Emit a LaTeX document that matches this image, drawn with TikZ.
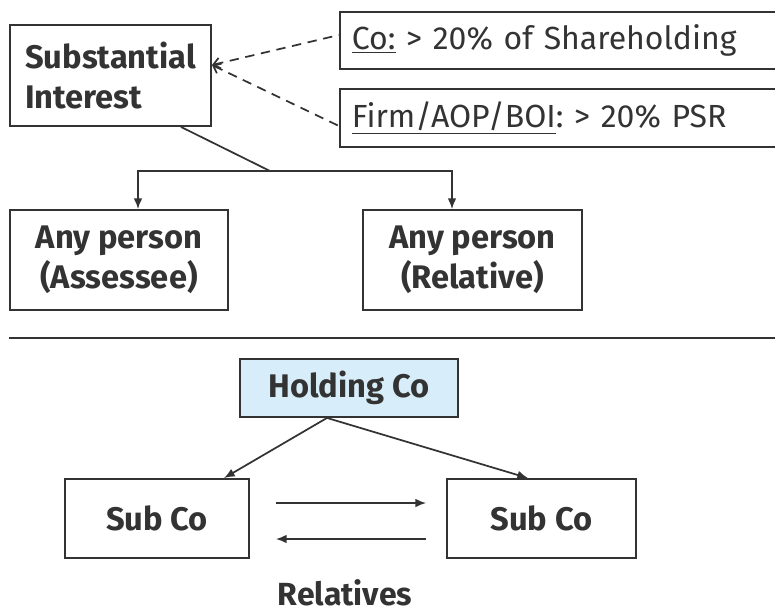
\documentclass[tikz,border=0pt]{standalone}
\usepackage{fontspec}
\setmainfont{Fira Sans}
\usepackage{tikz}
\usetikzlibrary{arrows.meta, positioning, calc}
\definecolor{inkgray}{HTML}{333333}
\definecolor{holdblue}{HTML}{D7EEFA}
\frenchspacing

\begin{document}
\begin{tikzpicture}[x=0.75pt, y=-0.75pt,
  box/.style={draw=inkgray, line width=1.4pt, text=inkgray, inner sep=0pt, font=\fontsize{24.5}{30}\selectfont\bfseries},
  rulebox/.style={draw=inkgray, line width=1.4pt, text=inkgray, anchor=west, align=left, inner xsep=9pt, font=\fontsize{24}{28}\selectfont},
  link/.style={draw=inkgray, line width=1.3pt},
  arr/.style={link, -{Latex[length=8pt, width=6.5pt]}}]
\useasboundingbox (0,0) rectangle (775,615);
% Top half: substantial interest
\node[box, minimum width=150.75pt, minimum height=75.75pt, align=left] (subst) at (110.5,75.5) {Substantial\\Interest};
\node[rulebox, minimum width=337.5pt, minimum height=42.75pt, text width=319.5pt] (co) at (339,40.5) {\underline{Co:} > 20\% of Shareholding};
\node[rulebox, minimum width=337.5pt, minimum height=43.5pt, text width=319.5pt] (firm) at (339,118) {\underline{Firm/AOP/BOI}: > 20\% PSR};
\draw[link, dashed, dash pattern=on 7pt off 5pt, {Straight Barb[length=5pt, width=8pt]}-] ($(subst.east)+(0,-10.5)$) -- ($(co.west)+(0,-5.5)$);
\draw[link, dashed, dash pattern=on 7pt off 5pt, {Straight Barb[length=5pt, width=8pt]}-] ($(subst.east)+(0,-10.5)$) -- ($(firm.west)+(0,8)$);
% Split to the two persons
\node[box, minimum width=163.5pt, minimum height=75pt, align=center] (assessee) at (119,260) {Any person\\(Assessee)};
\node[box, minimum width=164.25pt, minimum height=75pt, align=center] (relative) at (472.5,260) {Any person\\(Relative)};
\coordinate (junc) at (270,171);
\draw[link] ($(subst.south)+(70.5,0)$) -- (junc);
\draw[arr] (junc) -| ($(assessee.north)+(19,0)$);
\draw[arr] (junc) -| ($(relative.north)+(-20.5,0)$);
% Separator
\draw[inkgray, line width=1.6pt] (9,338) -- (775,338);
% Bottom half: holding and subsidiaries
\node[box, fill=holdblue, minimum width=163.5pt, minimum height=43.5pt] (holding) at (349,388) {Holding Co};
\node[box, minimum width=138pt, minimum height=59.25pt] (subL) at (157,518.5) {Sub Co};
\node[box, minimum width=141.75pt, minimum height=59.25pt] (subR) at (541.5,518.5) {Sub Co};
\draw[arr] ($(holding.south)+(-22,0)$) -- ($(subL.north)+(67,0)$);
\draw[arr] ($(holding.south)+(-22,0)$) -- ($(subR.north)+(-13.5,0)$);
\draw[arr] ($(subL.east)+(26,-15.5)$) -- ($(subR.west)+(-20,-15.5)$);
\draw[arr] ($(subR.west)+(-20,20.5)$) -- ($(subL.east)+(26,20.5)$);
\node[text=inkgray, font=\fontsize{24}{28}\selectfont\bfseries, anchor=base] (rel) at (345,605) {Relatives};
\end{tikzpicture}
\end{document}
